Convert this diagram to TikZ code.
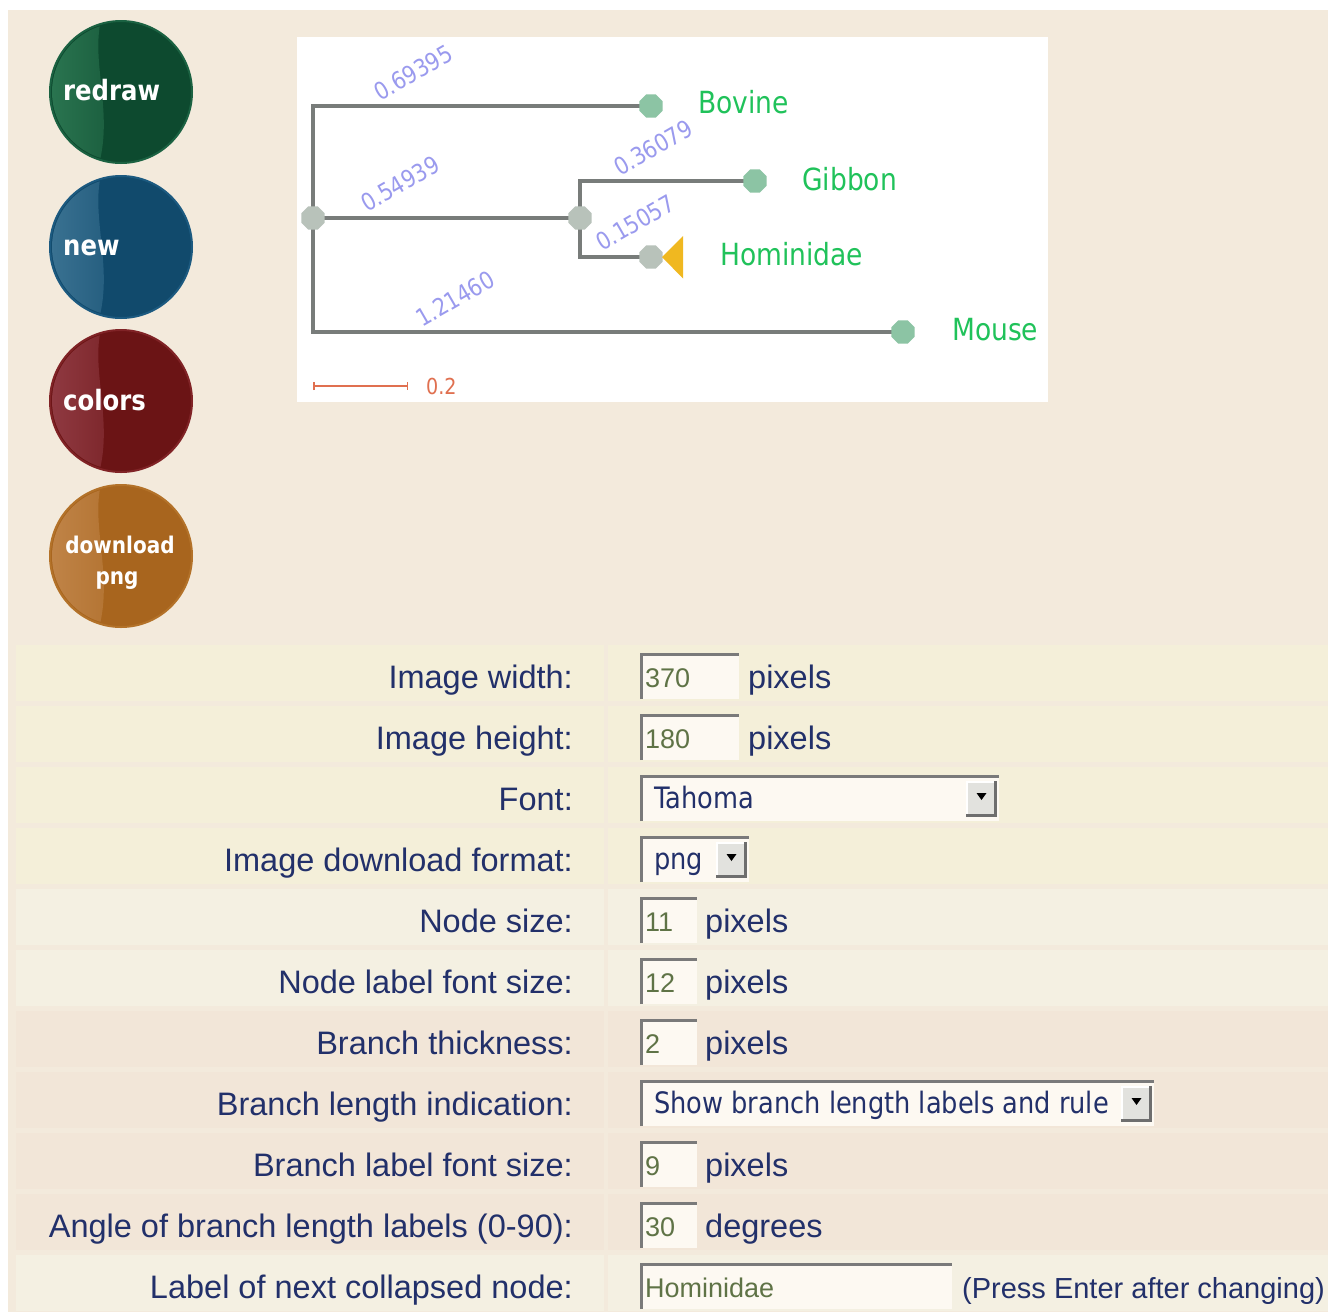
\documentclass[tikz,border=0pt]{standalone}
\usepackage{fontspec}
\setmainfont{Liberation Sans}
\newfontfamily\tah[FakeStretch=0.87]{DejaVu Sans}
\usetikzlibrary{shapes.geometric,arrows.meta}
\definecolor{pagebg}{HTML}{F3EADC}
\definecolor{rowY}{HTML}{F4EFD9}
\definecolor{rowL}{HTML}{F4F0E2}
\definecolor{rowP}{HTML}{F2E6D8}
\definecolor{navy}{HTML}{22306A}
\definecolor{olive}{HTML}{5F7346}
\definecolor{fieldfill}{HTML}{FDF9F2}
\definecolor{fieldedge}{HTML}{7A7A7A}
\definecolor{ddgray}{HTML}{E2E2DE}
\definecolor{branchgray}{HTML}{787C7A}
\definecolor{tipfill}{HTML}{8CC4A4}
\definecolor{innerfill}{HTML}{B8C2BA}
\definecolor{triyellow}{HTML}{F0B820}
\definecolor{tipgreen}{HTML}{20C25A}
\definecolor{blabcol}{HTML}{9A9AEE}
\definecolor{rulecol}{HTML}{E07050}
\definecolor{gA}{HTML}{0D4A2F}\definecolor{gAl}{HTML}{2A7550}\definecolor{gAe}{HTML}{1B6242}
\definecolor{bA}{HTML}{114A6C}\definecolor{bAl}{HTML}{3A7292}\definecolor{bAe}{HTML}{1C5A80}
\definecolor{rA}{HTML}{6B1415}\definecolor{rAl}{HTML}{903A42}\definecolor{rAe}{HTML}{802326}
\definecolor{oA}{HTML}{A8651E}\definecolor{oAl}{HTML}{C08448}\definecolor{oAe}{HTML}{B37229}
\tikzset{
  field/.style={fill=fieldfill, minimum height=46pt, inner sep=0pt, outer sep=0pt},
  fedge/.style={draw=fieldedge, line width=3pt},
  ddbtn/.style={fill=ddgray, minimum width=31pt, minimum height=36pt, inner sep=0pt, outer sep=0pt},
  ddshadow/.style={draw=fieldedge!90!black, line width=3pt},
  lab/.style={text=navy, inner sep=0pt, font=\fontsize{32.5}{32.5}\selectfont},
  valtext/.style={text=olive, inner sep=0pt, anchor=base west, font=\fontsize{27}{27}\selectfont},
  seltext/.style={text=navy, inner sep=0pt, anchor=base west, font=\tah\fontsize{29.5}{29.5}\selectfont},
  btntext/.style={text=white, inner sep=0pt, anchor=base west, font=\tah\bfseries\fontsize{28}{28}\selectfont},
  branch/.style={draw=branchgray, line width=4pt, line join=miter},
  tipnode/.style={regular polygon, regular polygon sides=8, minimum size=25pt, inner sep=0pt, fill=tipfill},
  innode/.style={regular polygon, regular polygon sides=8, minimum size=25pt, inner sep=0pt, fill=innerfill},
  tiplab/.style={text=tipgreen, inner sep=0pt, anchor=base west, font=\tah\fontsize{30.5}{30.5}\selectfont},
  blab/.style={text=blabcol, inner sep=0pt, anchor=base west, rotate=30, font=\tah\fontsize{24}{24}\selectfont},
}
\newcommand\gbutton[6]{% name, cx, cy, base, light, edge
  \node[circle, fill=#4, draw=#6, line width=2pt, minimum size=142pt, inner sep=0pt] (#1) at (#2,#3) {};
  \begin{scope}
    \clip (#2,#3) circle[radius=69pt];
    \shade[left color=#5, right color=#4!55!#5]
      ({#2-72},{#3-72}) -- ({#2-20},{#3-72})
      .. controls ({#2-30},{#3-30}) and ({#2-8},{#3+20}) .. ({#2-22},{#3+72})
      -- ({#2-72},{#3+72}) -- cycle;
  \end{scope}
}
\newcommand\infield[4]{% name, row top, width, text
  \node[field, minimum width=#3pt, anchor=north west] (#1) at (640,{#2+8}) {};
  \draw[fedge] ([xshift=1.5pt]#1.south west) -- ([xshift=1.5pt,yshift=-1.5pt]#1.north west) -- ([yshift=-1.5pt]#1.north east);
  \node[valtext] (#1-t) at (645,{#2+42}) {#4};
}
\newcommand\selfield[4]{% name, row top, width, text
  \node[field, minimum width=#3pt, anchor=north west] (#1) at (640,{#2+8}) {};
  \draw[fedge] ([xshift=1.5pt]#1.south west) -- ([xshift=1.5pt,yshift=-1.5pt]#1.north west) -- ([yshift=-1.5pt]#1.north east);
  \node[seltext] (#1-t) at (654,{#2+41}) {#4};
  \node[ddbtn, anchor=north east] (#1-b) at ([xshift=-2pt,yshift=-6pt]#1.north east) {};
  \draw[draw=white, line width=1.5pt] ([xshift=0.75pt]#1-b.south west) -- ([xshift=0.75pt,yshift=-0.75pt]#1-b.north west) -- ([yshift=-0.75pt]#1-b.north east);
  \draw[ddshadow] ([xshift=-1.5pt]#1-b.north east) -- ([xshift=-1.5pt,yshift=1.5pt]#1-b.south east) -- ([yshift=1.5pt]#1-b.south west);
  \fill[black] ([xshift=-5pt,yshift=-12pt]#1-b.north) -- ([xshift=5pt,yshift=-12pt]#1-b.north) -- ([yshift=-19pt]#1-b.north) -- cycle;
}
\begin{document}
\begin{tikzpicture}[x=1pt,y=-1pt]
\useasboundingbox (0,0) rectangle (1328,1312);
\fill[white] (0,0) rectangle (1328,1312);
\fill[pagebg] (8,10) rectangle (1328,1312);

% ---------- buttons ----------
\gbutton{bredraw}{121}{92}{gA}{gAl}{gAe}
\node[btntext] (tredraw) at (63,100) {redraw};
\gbutton{bnew}{121}{247}{bA}{bAl}{bAe}
\node[btntext] (tnew) at (63,255) {new};
\gbutton{bcolors}{121}{401}{rA}{rAl}{rAe}
\node[btntext] (tcolors) at (63,410) {colors};
\gbutton{bdown}{121}{556}{oA}{oAl}{oAe}
\node[btntext, anchor=base, font=\tah\bfseries\fontsize{23}{23}\selectfont] (tdown1) at (120,553) {download};
\node[btntext, anchor=base, font=\tah\bfseries\fontsize{23}{23}\selectfont] (tdown2) at (117,584) {png};

% ---------- tree panel ----------
\fill[white] (297,37) rectangle (1048,402);
\coordinate (root) at (313,218);
\coordinate (inner) at (580,218);
\coordinate (bov) at (651,106);
\coordinate (gib) at (755,181);
\coordinate (hom) at (651,257);
\coordinate (mou) at (903,332);
\draw[branch] (bov) -| (root);
\draw[branch] (mou) -| (root);
\draw[branch] (root) -- (inner);
\draw[branch] (gib) -| (inner);
\draw[branch] (hom) -| (inner);
\node[innode] (rootn) at (root) {};
\node[innode] (innern) at (inner) {};
\node[tipnode] (bovn) at (bov) {};
\node[tipnode] (gibn) at (gib) {};
\node[innode] (homn) at (hom) {};
\node[tipnode] (moun) at (mou) {};
\fill[triyellow] (662,257) -- (683,236) -- (683,278.5) -- cycle;
\node[tiplab] (lbov) at (698,113) {Bovine};
\node[tiplab] (lgib) at (802,190) {Gibbon};
\node[tiplab] (lhom) at (720,265) {Hominidae};
\node[tiplab] (lmou) at (952,340) {Mouse};
\node[blab] (b1) at (380,102) {0.69395};
\node[blab] (b2) at (367,213) {0.54939};
\node[blab] (b3) at (620,177) {0.36079};
\node[blab] (b4) at (602,252) {0.15057};
\node[blab] (b5) at (422,328) {1.21460};
\coordinate (rl) at (313,386);
\coordinate (rr) at (408,386);
\draw[rulecol, line width=1.5pt, {Bar[width=8pt]}-{Bar[width=8pt]}] (rl) -- (rr);
\node[text=rulecol, inner sep=0pt, anchor=base west, font=\tah\fontsize{22}{22}\selectfont] (rlab) at (426,394) {0.2};

% ---------- settings table ----------
\foreach \lab/\col [count=\i from 0] in {Image width:/rowY,Image height:/rowY,Font:/rowY,Image download format:/rowY,Node size:/rowL,Node label font size:/rowL,Branch thickness:/rowP,Branch length indication:/rowP,Branch label font size:/rowP,Angle of branch length labels (0-90):/rowP,Label of next collapsed node:/rowL}{
  \pgfmathsetmacro\T{645+61*\i}
  \fill[\col] (16,\T) rectangle (604,{\T+56});
  \fill[\col] (608,\T) rectangle (1328,{\T+56});
  \node[lab, anchor=base east] (lab\i) at (573,{\T+43}) {\lab};
}
\infield{f1}{645}{99}{370}
\node[lab, anchor=base west] (u1) at (748,688) {pixels};
\infield{f2}{706}{99}{180}
\node[lab, anchor=base west] (u2) at (748,749) {pixels};
\selfield{f3}{767}{359}{Tahoma}
\selfield{f4}{828}{109}{png}
\infield{f5}{889}{57}{11}
\node[lab, anchor=base west] (u5) at (705,932) {pixels};
\infield{f6}{950}{57}{12}
\node[lab, anchor=base west] (u6) at (705,993) {pixels};
\infield{f7}{1011}{57}{2}
\node[lab, anchor=base west] (u7) at (705,1054) {pixels};
\selfield{f8}{1072}{514}{Show branch length labels and rule}
\infield{f9}{1133}{57}{9}
\node[lab, anchor=base west] (u9) at (705,1176) {pixels};
\infield{f10}{1194}{57}{30}
\node[lab, anchor=base west] (u10) at (705,1237) {degrees};
\infield{f11}{1255}{312}{Hominidae}
\node[lab, anchor=base west, font=\fontsize{29}{29}\selectfont] (u11) at (962,1298) {(Press Enter after changing)};
\end{tikzpicture}
\end{document}
